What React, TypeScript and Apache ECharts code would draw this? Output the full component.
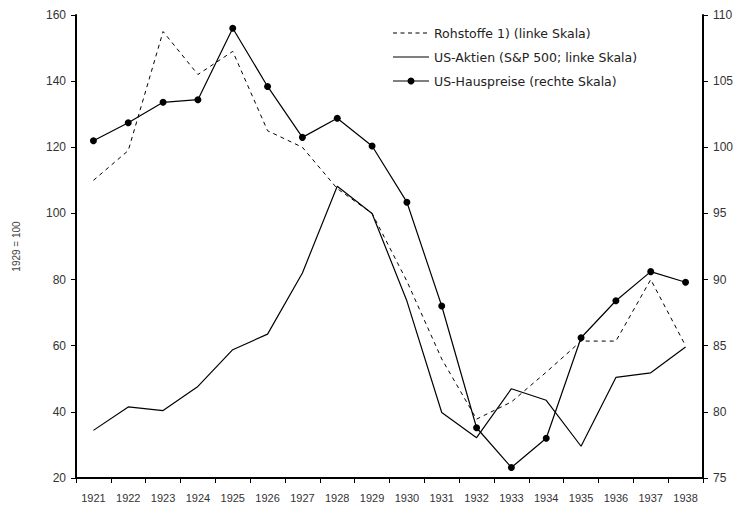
import React, { useEffect, useRef } from "react";
import * as echarts from "echarts";

const years = ["1921","1922","1923","1924","1925","1926","1927","1928","1929","1930","1931","1932","1933","1934","1935","1936","1937","1938"];
const rohstoffe = [110, 119, 155, 142, 149, 125, 120, 107.5, 100, 79.5, 56, 37.8, 43, 52, 61.4, 61.4, 80, 60];
const aktien = [34.4, 41.5, 40.4, 47.7, 58.8, 63.5, 82, 108.2, 100, 73.5, 39.8, 32.2, 47, 43.5, 29.6, 50.4, 51.8, 59.6];
const hauspreise = [100.5, 101.85, 103.4, 103.6, 109.0, 104.6, 100.75, 102.2, 100.1, 95.85, 88.0, 78.8, 75.8, 78.0, 85.6, 88.4, 90.6, 89.8];
const seriesNames = ["Rohstoffe 1) (linke Skala)", "US-Aktien (S&P 500; linke Skala)", "US-Hauspreise (rechte Skala)"];

const FONT = "Liberation Sans";
const LEG_FONT = "DejaVu Sans";

export default function App() {
  const ref = useRef<HTMLDivElement>(null);
  useEffect(() => {
    if (!ref.current) return;
    const chart = echarts.init(ref.current, undefined, { renderer: "svg" });
    const legX0 = 393, legX1 = 429, legTx = 434, legY = [33, 57, 81];
    const legend: any[] = [];
    seriesNames.forEach((n, i) => {
      legend.push({
        type: "line",
        shape: { x1: legX0, y1: legY[i], x2: legX1, y2: legY[i] },
        style: { stroke: "#000", lineWidth: 1.2, lineDash: i === 0 ? [4, 3.5] : null },
      });
      if (i === 2) {
        legend.push({ type: "circle", shape: { cx: (legX0 + legX1) / 2, cy: legY[i], r: 3.5 }, style: { fill: "#000" } });
      }
      legend.push({
        type: "text",
        x: legTx,
        y: legY[i],
        style: { text: n, font: `12.5px "${LEG_FONT}"`, fill: "#222", verticalAlign: "middle", align: "left" },
      });
    });
    chart.setOption({
      animation: false,
      backgroundColor: "#ffffff",
      grid: { left: 76, right: 33, top: 15, bottom: 29 },
      graphic: legend,
      xAxis: {
        type: "category",
        data: years,
        boundaryGap: true,
        axisLine: { lineStyle: { color: "#000", width: 2 } },
        axisTick: { show: true, length: 5, lineStyle: { color: "#000", width: 1 } },
        axisLabel: { fontFamily: FONT, fontSize: 11, color: "#333", margin: 14 },
      },
      yAxis: [
        {
          type: "value",
          min: 20,
          max: 160,
          interval: 20,
          name: "1929 = 100",
          nameLocation: "middle",
          nameRotate: 90,
          nameGap: 55,
          nameTextStyle: { fontFamily: FONT, fontSize: 10, color: "#444" },
          axisLine: { show: true, lineStyle: { color: "#000", width: 2 } },
          axisTick: { show: true, length: 5, lineStyle: { color: "#000", width: 1 } },
          axisLabel: { fontFamily: FONT, fontSize: 12, color: "#333", margin: 10 },
          splitLine: { show: false },
        },
        {
          type: "value",
          min: 75,
          max: 110,
          interval: 5,
          position: "right",
          axisLine: { show: true, lineStyle: { color: "#000", width: 2 } },
          axisTick: { show: true, length: 5, lineStyle: { color: "#000", width: 1 } },
          axisLabel: { fontFamily: FONT, fontSize: 12, color: "#333", margin: 10 },
          splitLine: { show: false },
        },
      ],
      series: [
        {
          name: seriesNames[0],
          type: "line",
          yAxisIndex: 0,
          data: rohstoffe,
          symbol: "none",
          itemStyle: { color: "#000" },
          lineStyle: { color: "#000", width: 1, type: [4, 4] },
        },
        {
          name: seriesNames[1],
          type: "line",
          yAxisIndex: 0,
          data: aktien,
          symbol: "none",
          itemStyle: { color: "#000" },
          lineStyle: { color: "#000", width: 1.2 },
        },
        {
          name: seriesNames[2],
          type: "line",
          yAxisIndex: 1,
          data: hauspreise,
          symbol: "circle",
          symbolSize: 7,
          itemStyle: { color: "#000" },
          lineStyle: { color: "#000", width: 1.2 },
        },
      ],
    });
    return () => chart.dispose();
  }, []);
  return <div ref={ref} style={{ width: 736, height: 507, position: "absolute", left: 0, top: 0 }} />;
}
